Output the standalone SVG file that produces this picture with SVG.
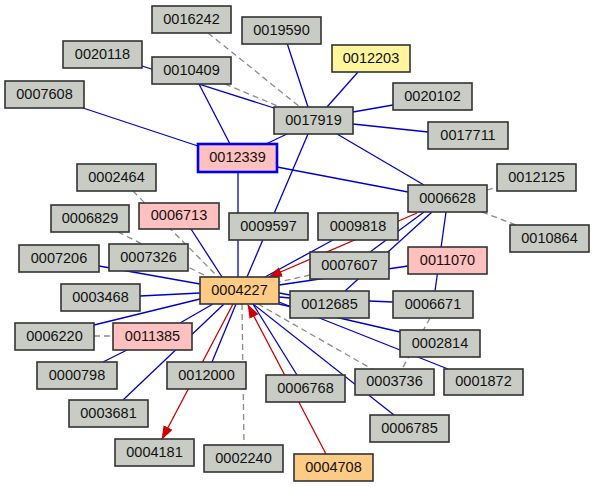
<svg xmlns="http://www.w3.org/2000/svg" width="595" height="487" viewBox="0 0 595 487">
<defs>
<style>
.n rect{fill:#c9cbc5;stroke:#333;stroke-width:1.6}
.n.pink rect{fill:#ffc0c0}
.n.yel rect{fill:#fff59d}
.n.org rect{fill:#fecb84}
.n.sel rect{stroke:#0000ee;stroke-width:2.6}
.n text{font-family:"Liberation Sans",Arial,sans-serif;font-size:14.5px;fill:#111;text-anchor:middle}
.e line{stroke-width:1.3;fill:none}
.b{stroke:#0000cd}
.r{stroke:#cc0000}
.g{stroke:#8a8a8a;stroke-dasharray:6,4}
</style>
<marker id="arr" markerWidth="14" markerHeight="10" refX="13" refY="5" orient="auto" markerUnits="userSpaceOnUse"><path d="M0,0 L14,5 L0,10 z" fill="#cc0000"/></marker>
</defs>
<rect width="595" height="487" fill="#fff"/>
<g id="connectors" class="e">
<line class="b" x1="287" y1="43" x2="308" y2="107"/>
<line class="b" x1="358" y1="72" x2="327" y2="107"/>
<line class="b" x1="353" y1="112" x2="393" y2="105"/>
<line class="b" x1="353" y1="124" x2="428" y2="132"/>
<line class="b" x1="142" y1="66" x2="274" y2="108"/>
<line class="b" x1="199" y1="84" x2="230" y2="144"/>
<line class="b" x1="287" y1="134" x2="266" y2="144"/>
<line class="b" x1="308" y1="134" x2="247" y2="277"/>
<line class="b" x1="337" y1="134" x2="424" y2="185"/>
<line class="b" x1="277" y1="167" x2="408" y2="192"/>
<line class="b" x1="83" y1="108" x2="198" y2="146"/>
<line class="b" x1="238" y1="172" x2="238" y2="277"/>
<line class="b" x1="446" y1="212" x2="435" y2="291"/>
<line class="b" x1="333" y1="240" x2="265" y2="277"/>
<line class="b" x1="424" y1="212" x2="370" y2="252"/>
<line class="b" x1="432" y1="212" x2="345" y2="291"/>
<line class="b" x1="408" y1="266" x2="279" y2="285"/>
<line class="b" x1="191" y1="229" x2="222" y2="277"/>
<line class="b" x1="99" y1="266" x2="200" y2="284"/>
<line class="b" x1="140" y1="296" x2="200" y2="293"/>
<line class="b" x1="94" y1="325" x2="200" y2="299"/>
<line class="b" x1="180" y1="323" x2="213" y2="304"/>
<line class="b" x1="103" y1="362" x2="127" y2="350"/>
<line class="b" x1="123" y1="400" x2="224" y2="304"/>
<line class="b" x1="236" y1="304" x2="212" y2="362"/>
<line class="b" x1="253" y1="304" x2="297" y2="375"/>
<line class="b" x1="253" y1="304" x2="394" y2="415"/>
<line class="b" x1="279" y1="293" x2="290" y2="295"/>
<line class="b" x1="279" y1="297" x2="290" y2="298"/>
<line class="b" x1="369" y1="301" x2="393" y2="302"/>
<line class="b" x1="279" y1="304" x2="400" y2="332"/>
<line class="b" x1="279" y1="302" x2="448" y2="369"/>
<line class="r" x1="417" y1="213" x2="269" y2="277" marker-end="url(#arr)"/>
<line class="r" x1="233" y1="304" x2="162" y2="439" marker-end="url(#arr)"/>
<line class="r" x1="326" y1="454" x2="248" y2="305" marker-end="url(#arr)"/>
<line class="g" x1="208" y1="33" x2="300" y2="107"/>
<line class="g" x1="225" y1="84" x2="280" y2="107"/>
<line class="g" x1="487" y1="190" x2="497" y2="187"/>
<line class="g" x1="482" y1="212" x2="516" y2="225"/>
<line class="g" x1="310" y1="275" x2="279" y2="282"/>
<line class="g" x1="133" y1="191" x2="218" y2="277"/>
<line class="g" x1="118" y1="232" x2="208" y2="277"/>
<line class="g" x1="94" y1="336" x2="113" y2="336"/>
<line class="g" x1="242" y1="304" x2="244" y2="445"/>
<line class="g" x1="258" y1="304" x2="372" y2="369"/>
<line class="g" x1="430" y1="318" x2="402" y2="369"/>
</g>
<g id="n0016242" class="n"><rect x="152" y="6" width="79" height="27"/><text x="191.5" y="23.5">0016242</text></g>
<g id="n0019590" class="n"><rect x="242" y="17" width="79" height="27"/><text x="281.5" y="34.5">0019590</text></g>
<g id="n0012203" class="n yel"><rect x="332" y="45" width="78" height="27"/><text x="371" y="62.5">0012203</text></g>
<g id="n0020118" class="n"><rect x="63" y="41" width="79" height="27"/><text x="102.5" y="58.5">0020118</text></g>
<g id="n0010409" class="n"><rect x="152" y="57" width="79" height="27"/><text x="191.5" y="74.5">0010409</text></g>
<g id="n0007608" class="n"><rect x="5" y="81" width="79" height="27"/><text x="44.5" y="98.5">0007608</text></g>
<g id="n0020102" class="n"><rect x="393" y="83" width="79" height="27"/><text x="432.5" y="100.5">0020102</text></g>
<g id="n0017919" class="n"><rect x="274" y="107" width="79" height="27"/><text x="313.5" y="124.5">0017919</text></g>
<g id="n0017711" class="n"><rect x="428" y="122" width="80" height="27"/><text x="468" y="139.5">0017711</text></g>
<g id="n0012339" class="n pink sel"><rect x="198" y="144" width="79" height="28"/><text x="237.5" y="162">0012339</text></g>
<g id="n0002464" class="n"><rect x="77" y="164" width="79" height="27"/><text x="116.5" y="181.5">0002464</text></g>
<g id="n0012125" class="n"><rect x="497" y="164" width="79" height="27"/><text x="536.5" y="181.5">0012125</text></g>
<g id="n0006628" class="n"><rect x="408" y="185" width="79" height="27"/><text x="447.5" y="202.5">0006628</text></g>
<g id="n0006713" class="n pink"><rect x="139" y="203" width="80" height="26"/><text x="179" y="220">0006713</text></g>
<g id="n0006829" class="n"><rect x="51" y="205" width="78" height="27"/><text x="90" y="222.5">0006829</text></g>
<g id="n0009597" class="n"><rect x="229" y="213" width="79" height="27"/><text x="268.5" y="230.5">0009597</text></g>
<g id="n0009818" class="n"><rect x="318" y="213" width="80" height="27"/><text x="358" y="230.5">0009818</text></g>
<g id="n0010864" class="n"><rect x="510" y="225" width="79" height="27"/><text x="549.5" y="242.5">0010864</text></g>
<g id="n0007326" class="n"><rect x="109" y="244" width="79" height="27"/><text x="148.5" y="261.5">0007326</text></g>
<g id="n0007206" class="n"><rect x="19" y="245" width="80" height="27"/><text x="59" y="262.5">0007206</text></g>
<g id="n0011070" class="n pink"><rect x="408" y="247" width="79" height="27"/><text x="447.5" y="264.5">0011070</text></g>
<g id="n0007607" class="n"><rect x="310" y="252" width="79" height="27"/><text x="349.5" y="269.5">0007607</text></g>
<g id="n0004227" class="n org"><rect x="200" y="277" width="79" height="27"/><text x="239.5" y="294.5">0004227</text></g>
<g id="n0003468" class="n"><rect x="61" y="284" width="79" height="27"/><text x="100.5" y="301.5">0003468</text></g>
<g id="n0012685" class="n"><rect x="290" y="291" width="79" height="27"/><text x="329.5" y="308.5">0012685</text></g>
<g id="n0006671" class="n"><rect x="393" y="291" width="80" height="27"/><text x="433" y="308.5">0006671</text></g>
<g id="n0006220" class="n"><rect x="15" y="323" width="79" height="27"/><text x="54.5" y="340.5">0006220</text></g>
<g id="n0011385" class="n pink"><rect x="113" y="323" width="79" height="27"/><text x="152.5" y="340.5">0011385</text></g>
<g id="n0002814" class="n"><rect x="400" y="330" width="80" height="27"/><text x="440" y="347.5">0002814</text></g>
<g id="n0000798" class="n"><rect x="37" y="362" width="80" height="27"/><text x="77" y="379.5">0000798</text></g>
<g id="n0012000" class="n"><rect x="167" y="362" width="79" height="27"/><text x="206.5" y="379.5">0012000</text></g>
<g id="n0003736" class="n"><rect x="355" y="369" width="79" height="26"/><text x="394.5" y="386">0003736</text></g>
<g id="n0001872" class="n"><rect x="444" y="369" width="79" height="26"/><text x="483.5" y="386">0001872</text></g>
<g id="n0006768" class="n"><rect x="266" y="375" width="79" height="27"/><text x="305.5" y="392.5">0006768</text></g>
<g id="n0003681" class="n"><rect x="69" y="400" width="79" height="27"/><text x="108.5" y="417.5">0003681</text></g>
<g id="n0006785" class="n"><rect x="370" y="415" width="79" height="27"/><text x="409.5" y="432.5">0006785</text></g>
<g id="n0004181" class="n"><rect x="115" y="439" width="79" height="27"/><text x="154.5" y="456.5">0004181</text></g>
<g id="n0002240" class="n"><rect x="204" y="445" width="79" height="27"/><text x="243.5" y="462.5">0002240</text></g>
<g id="n0004708" class="n org"><rect x="294" y="454" width="79" height="27"/><text x="333.5" y="471.5">0004708</text></g>
</svg>
